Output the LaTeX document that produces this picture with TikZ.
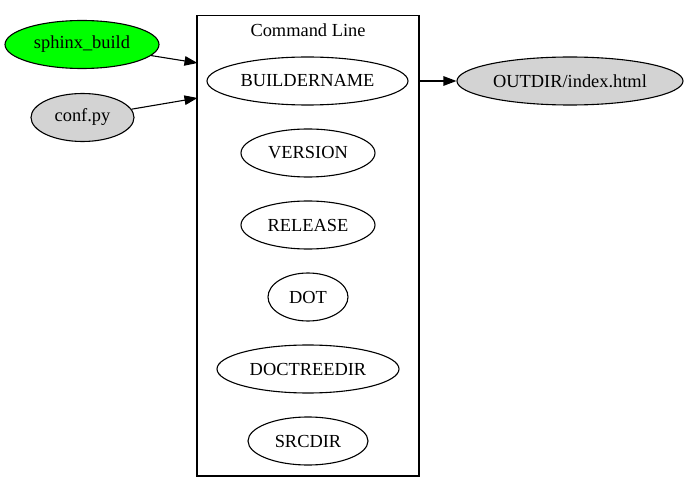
\documentclass[tikz,border=0pt]{standalone}
\usepackage{fontspec}
\setmainfont{Liberation Serif}
\usetikzlibrary{shapes.geometric,arrows.meta}
\begin{document}
\begin{tikzpicture}[x=1pt,y=-1pt,
  every node/.style={font=\fontsize{18.4}{22}\selectfont},
  nd/.style={ellipse,draw=black,line width=1.1pt,inner sep=0pt,minimum height=48},
  arr/.style={-{Triangle[length=13,width=9.5]},line width=1.1pt},
  clusterbox/.style={draw=black,line width=1.1pt,inner sep=0pt}]
\useasboundingbox (0,0) rectangle (689,492);
\draw[clusterbox] (197,15.5) rectangle (419,476);
\node (cllabel) at (308,30) {Command Line};
\node[nd,fill=green,minimum width=154] (sb) at (82,44.5) {sphinx\_build};
\node[nd,fill={rgb,255:red,211;green,211;blue,211},minimum width=103] (conf) at (82.5,117.5) {conf.py};
\node[nd,minimum width=201] (bn) at (307.5,81) {BUILDERNAME};
\node[nd,minimum width=134] (ver) at (308,153) {VERSION};
\node[nd,minimum width=134] (rel) at (308,225) {RELEASE};
\node[nd,minimum width=80] (dot) at (308,297) {DOT};
\node[nd,minimum width=182] (dtd) at (308,369) {DOCTREEDIR};
\node[nd,minimum width=120] (src) at (308,441) {SRCDIR};
\node[nd,fill={rgb,255:red,211;green,211;blue,211},minimum width=226] (out) at (570,81) {OUTDIR/index.html};
\coordinate (c1) at (197.5,63);
\coordinate (c2) at (197.5,98);
\coordinate (c3) at (419,81);
\draw[arr] (sb) -- (c1);
\draw[arr] (conf) -- (c2);
\draw[arr] (c3) -- (out);
\end{tikzpicture}
\end{document}
